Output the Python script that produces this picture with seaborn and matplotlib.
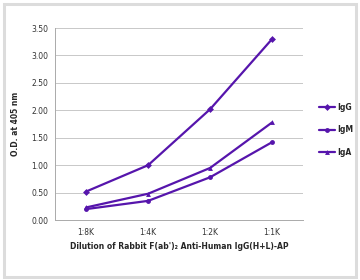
import matplotlib
matplotlib.use("Agg")
import matplotlib.pyplot as plt
import seaborn as sns
import pandas as pd
from matplotlib.patches import Rectangle

categories = ["1:8K", "1:4K", "1:2K", "1:1K"]
igg = [0.52, 1.00, 2.02, 3.30]
igm = [0.20, 0.35, 0.78, 1.42]
iga = [0.23, 0.48, 0.95, 1.78]
series_names = ["IgG", "IgM", "IgA"]
y_ticks = [0.0, 0.5, 1.0, 1.5, 2.0, 2.5, 3.0, 3.5]

rows = []
for name, vals in zip(series_names, [igg, igm, iga]):
    for i, v in enumerate(vals):
        rows.append({"pos": i, "OD": v, "Antibody": name})
df = pd.DataFrame(rows)

sns.set_theme(style="white")
plt.rcParams['font.family'] = ['DejaVu Sans']

color = "#5615AC"
fig = plt.figure(figsize=(3.6, 2.8), dpi=100)
fig.patches.append(Rectangle((0.011, 0.011), 0.978, 0.975, transform=fig.transFigure,
                             fill=False, edgecolor="#dcdcdc", linewidth=2.2))
ax = fig.add_axes([0.153, 0.214, 0.689, 0.686])

sns.lineplot(data=df, x="pos", y="OD", hue="Antibody", style="Antibody",
             hue_order=series_names, style_order=series_names,
             palette=[color] * 3, markers={"IgG": "D", "IgM": "o", "IgA": "^"},
             dashes=False, linewidth=1.6, markersize=3.5, markeredgewidth=0,
             ax=ax, legend=True)

ax.set_xlim(-0.5, len(categories) - 0.5)
ax.set_ylim(0, 3.5)
ax.set_yticks(y_ticks)
ax.set_yticklabels([f"{t:.2f}" for t in y_ticks], fontsize=5.5, color="#333333")
ax.set_xticks(range(len(categories)))
ax.set_xticklabels(categories, fontsize=5.5, color="#333333")
ax.set_xticks([i - 0.5 for i in range(len(categories) + 1)], minor=True)
ax.tick_params(axis="x", which="major", length=0, pad=6)
ax.tick_params(axis="x", which="minor", length=3, color="#aaaaaa", width=0.6, direction="out")
ax.tick_params(axis="y", length=3, color="#aaaaaa", width=0.6, direction="out", pad=2)
ax.grid(axis="y", color="#c8c8c8", linewidth=0.7)
ax.set_axisbelow(True)
for s in ["top", "right"]:
    ax.spines[s].set_visible(False)
for s in ["left", "bottom"]:
    ax.spines[s].set_color("#aaaaaa")
    ax.spines[s].set_linewidth(0.7)

ax.set_ylabel("O.D. at 405 nm", fontsize=5.5, fontweight="bold", labelpad=8)
ax.set_xlabel("Dilution of Rabbit F(ab')\u2082 Anti-Human IgG(H+L)-AP", fontsize=5.5,
              fontweight="bold", labelpad=3)

leg = ax.legend(loc="center left", bbox_to_anchor=(1.05, 0.47), frameon=False,
                fontsize=5.5, handlelength=2.2, handletextpad=0.2, labelspacing=1.8,
                borderaxespad=0)
for t in leg.get_texts():
    t.set_fontweight("bold")

fig.savefig("out.png", dpi=100)
